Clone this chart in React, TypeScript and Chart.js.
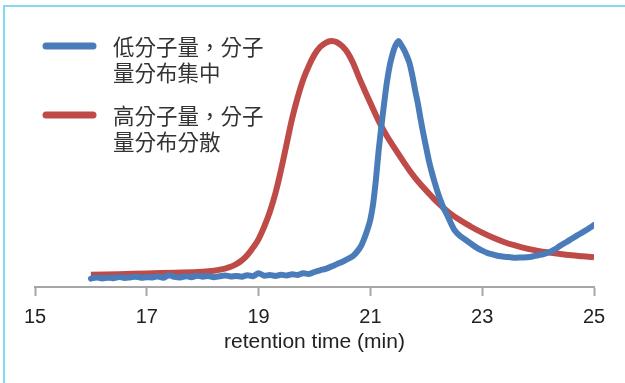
import { useEffect, useRef } from 'react';
import { Chart, registerables } from 'chart.js';

Chart.register(...registerables);

const xMin = 15;
const xMax = 25;
const xStep = 2;
const axisTitle = 'retention time (min)';

const seriesNames = ['低分子量，分子量分布集中', '高分子量，分子量分布分散'];
const legendLines = [
  ['低分子量，分子', '量分布集中'],
  ['高分子量，分子', '量分布分散'],
];

// Low molecular weight, narrow distribution (blue)
const blueTimes = [
  16.0, 16.1, 16.2, 16.3, 16.4, 16.5, 16.6, 16.7, 16.8, 16.9,
  17.0, 17.1, 17.2, 17.3, 17.4, 17.5, 17.6, 17.7, 17.8, 17.9,
  18.0, 18.1, 18.2, 18.3, 18.4, 18.5, 18.6, 18.7, 18.8, 18.9,
  19.0, 19.1, 19.2, 19.3, 19.4, 19.5, 19.6, 19.7, 19.8, 19.9,
  20.0, 20.1, 20.2, 20.3, 20.4, 20.5, 20.6, 20.7, 20.8, 20.85,
  20.9, 20.95, 21.0, 21.05, 21.1, 21.15, 21.2, 21.25, 21.3, 21.35,
  21.4, 21.45, 21.5, 21.53, 21.6, 21.65, 21.7, 21.75, 21.8, 21.85,
  21.9, 21.95, 22.0, 22.05, 22.1, 22.15, 22.2, 22.25, 22.3, 22.35,
  22.4, 22.45, 22.5, 22.6, 22.7, 22.8, 22.9, 23.0, 23.1, 23.2,
  23.3, 23.4, 23.5, 23.6, 23.7, 23.8, 23.9, 24.0, 24.1, 24.2,
  24.3, 24.4, 24.5, 24.6, 24.7, 24.8, 24.9, 25.0,
];
const blueSignal = [
  3.4, 3.9, 3.5, 3.8, 3.6, 4.1, 3.7, 3.9, 4.2, 3.8,
  4.0, 3.9, 4.3, 3.8, 4.8, 4.1, 3.9, 4.4, 4.0, 4.6,
  4.2, 4.5, 4.0, 4.4, 4.7, 4.3, 4.5, 4.2, 4.8, 4.4,
  5.6, 4.6, 4.9, 4.5, 5.0, 4.7, 5.2, 4.9, 5.6, 5.3,
  6.1, 6.8, 7.4, 8.3, 9.3, 10.3, 11.4, 12.8, 15.5, 17.5,
  20.3, 23.5, 27.5, 34.0, 44.0, 56.0, 66.0, 75.5, 84.0, 90.5,
  95.0, 98.3, 100.0, 99.2, 96.5, 94.0, 91.0, 86.0, 80.0, 74.5,
  68.0, 62.0, 56.5, 51.0, 46.5, 42.5, 38.8, 35.5, 32.5, 30.3,
  28.0, 25.5, 23.3, 20.8, 19.2, 17.6, 16.0, 14.8, 13.8, 13.2,
  12.6, 12.3, 12.1, 11.9, 12.0, 12.1, 12.4, 12.9, 13.4, 14.1,
  15.3, 16.9, 18.2, 19.6, 21.0, 22.3, 23.7, 25.2,
];

// High molecular weight, broad distribution (red)
const redTimes = [
  16.0, 16.5, 17.0, 17.5, 18.0, 18.2, 18.4, 18.5, 18.6, 18.7,
  18.8, 18.9, 19.0, 19.1, 19.2, 19.3, 19.4, 19.5, 19.6, 19.7,
  19.8, 19.9, 20.0, 20.1, 20.2, 20.3, 20.4, 20.5, 20.6, 20.7,
  20.8, 20.9, 21.0, 21.1, 21.2, 21.3, 21.4, 21.5, 21.6, 21.7,
  21.8, 21.9, 22.0, 22.2, 22.4, 22.6, 22.8, 23.0, 23.2, 23.4,
  23.6, 23.8, 24.0, 24.2, 24.4, 24.6, 24.8, 25.0,
];
const redSignal = [
  5.0, 5.2, 5.5, 5.8, 6.2, 6.6, 7.5, 8.2, 9.3, 10.8,
  13.0, 16.0, 19.5, 24.5, 30.5, 38.0, 47.5, 58.0, 68.5, 77.2,
  84.5, 90.0, 94.5, 97.6, 99.3, 100.0, 99.5, 97.8, 95.0, 90.6,
  85.0, 79.8, 74.8, 69.8, 65.2, 61.2, 57.6, 54.1, 50.7, 47.4,
  44.4, 41.7, 39.2, 34.4, 30.4, 27.2, 24.5, 22.1, 20.0, 18.2,
  16.8, 15.6, 14.7, 14.0, 13.4, 12.9, 12.5, 12.1,
];

const colors = ['#4A7CBA', '#BE4B48'];

const legendPlugin = {
  id: 'sketchLegend',
  afterDraw(chart: any) {
    const ctx = chart.ctx as CanvasRenderingContext2D;
    ctx.save();
    const rows = [46, 115];
    chart.data.datasets.forEach((ds: any, i: number) => {
      const y = rows[i];
      ctx.strokeStyle = ds.borderColor;
      ctx.lineWidth = 7;
      ctx.lineCap = 'round';
      ctx.beginPath();
      ctx.moveTo(46, y);
      ctx.lineTo(93, y);
      ctx.stroke();
      ctx.fillStyle = '#333333';
      ctx.font = '21.5px "Noto Sans CJK TC", "Noto Sans CJK SC", sans-serif';
      ctx.textBaseline = 'middle';
      ctx.textAlign = 'left';
      legendLines[i].forEach((t, j) => {
        ctx.fillText(t, 113, y + 1 + j * 26);
      });
    });
    ctx.restore();
  },
};

export default function App() {
  const ref = useRef<HTMLCanvasElement | null>(null);

  useEffect(() => {
    document.body.style.margin = '0';
    const canvas = ref.current;
    if (!canvas) return;
    const chart = new Chart(canvas, {
      type: 'line',
      data: {
        datasets: [
          {
            label: seriesNames[0],
            data: blueTimes.map((t, i) => ({ x: t, y: blueSignal[i] })),
            borderColor: colors[0],
            backgroundColor: colors[0],
            borderWidth: 6,
            pointRadius: 0,
            tension: 0.3,
            borderJoinStyle: 'round',
            borderCapStyle: 'round',
          },
          {
            label: seriesNames[1],
            data: redTimes.map((t, i) => ({ x: t, y: redSignal[i] })),
            borderColor: colors[1],
            backgroundColor: colors[1],
            borderWidth: 6,
            pointRadius: 0,
            tension: 0.4,
            borderJoinStyle: 'round',
            borderCapStyle: 'butt',
          },
        ],
      },
      options: {
        responsive: false,
        animation: false,
        devicePixelRatio: 1,
        layout: { padding: { left: 35, right: 31, top: 30, bottom: 0 } },
        plugins: { legend: { display: false }, tooltip: { enabled: false } },
        scales: {
          x: {
            type: 'linear',
            min: xMin,
            max: xMax,
            ticks: {
              stepSize: xStep,
              color: '#222222',
              font: { family: '"Liberation Sans", Arial, sans-serif', size: 20 },
              padding: 9,
              maxRotation: 0,
            },
            grid: {
              drawOnChartArea: false,
              drawTicks: true,
              tickLength: 9,
              tickColor: '#a6a6a6',
              tickWidth: 2,
            },
            border: { display: true, color: '#a6a6a6', width: 2 },
            title: {
              display: true,
              text: axisTitle,
              color: '#222222',
              font: { family: '"Liberation Sans", Arial, sans-serif', size: 21 },
              padding: { top: 0, bottom: 28 },
            },
            afterFit(scale: any) {
              scale.height = 96;
            },
          },
          y: {
            display: false,
            min: 0,
            max: 104.5,
          },
        },
      },
      plugins: [legendPlugin],
    });
    return () => chart.destroy();
  }, []);

  return (
    <div style={{ position: 'absolute', left: 0, top: 0, width: 625, height: 383, background: '#ffffff', overflow: 'hidden' }}>
      <canvas ref={ref} width={625} height={383} style={{ position: 'absolute', left: 0, top: 0, width: 625, height: 383 }} />
      <div
        style={{
          position: 'absolute',
          left: 3,
          top: 5,
          right: -10,
          bottom: -10,
          borderTop: '2px solid #86d9f3',
          borderLeft: '2px solid #86d9f3',
          pointerEvents: 'none',
        }}
      />
    </div>
  );
}
